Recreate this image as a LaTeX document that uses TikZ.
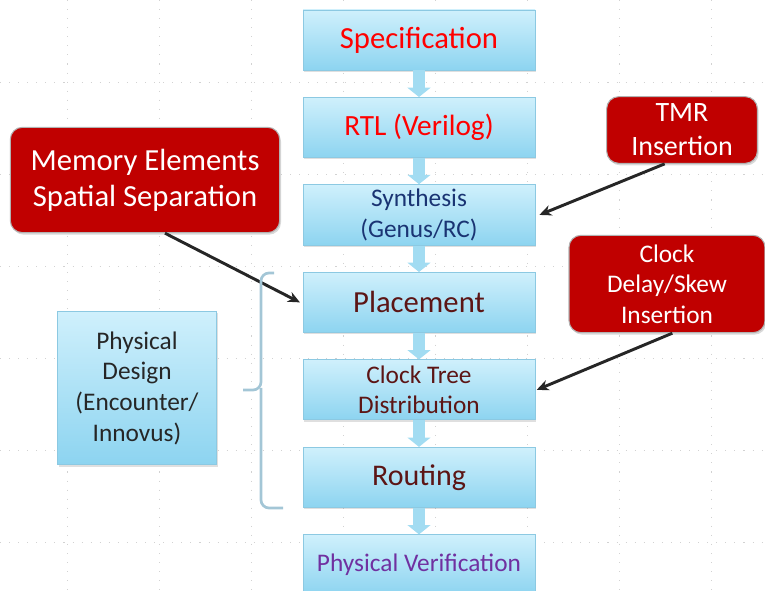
\documentclass[tikz,border=0pt]{standalone}
\usepackage{fontspec}
\setmainfont{Carlito}
\usetikzlibrary{positioning, arrows.meta, shadows}
\definecolor{boxtop}{HTML}{CFF0FC}
\definecolor{boxbot}{HTML}{8DD4F0}
\definecolor{boxline}{HTML}{8CC9E2}
\definecolor{flowcol}{HTML}{A2DCF2}
\definecolor{alert}{HTML}{C00000}
\definecolor{navy}{HTML}{1A3473}
\definecolor{maroon}{HTML}{5C1515}
\definecolor{violet}{HTML}{7030A0}
\definecolor{ink}{HTML}{262626}
\definecolor{bracecol}{HTML}{A3C6D6}

\begin{document}
\begin{tikzpicture}[x=0.75pt, y=-0.75pt, node distance={65.6pt}, thick,
    main/.style = {draw=boxline, line width=0.6pt, top color=boxtop, bottom color=boxbot, minimum width=174pt, minimum height=45pt, align=center, drop shadow={shadow xshift=1pt, shadow yshift=-1.5pt, opacity=0.25}},
    note/.style = {draw=gray!60, line width=0.8pt, fill=alert, rounded corners=9pt, text=white, align=center, drop shadow={shadow xshift=1pt, shadow yshift=-1.5pt, opacity=0.3}},
    big/.style = {font=\fontsize{23}{27}\selectfont},
    mid/.style = {font=\fontsize{19}{23}\selectfont},
    flow/.style = {line width=9pt, draw=flowcol, -{Triangle[width=17pt, length=7pt]}},
    pointer/.style = {line width=2.2pt, draw=ink, -{Stealth[length=9pt, width=8pt]}},
    gridline/.style = {gray!35, line width=0.6pt, dash pattern=on 0.8pt off 6pt}]
    \useasboundingbox (0,0) rectangle (765,591);
    % background grid
    \foreach \x in {67,159,...,711} \draw[gridline] (\x,0) -- (\x,591);
    \foreach \y in {82,174,...,542} \draw[gridline] (0,\y) -- (765,\y);
    % design flow
    \node[main, big, text=red] (1) at (419,40) {Specification};
    \node[main, font=\fontsize{22}{26}\selectfont, text=red] (2) [below of = 1] {RTL (Verilog)};
    \node[main, mid, text=navy] (3) [below of = 2] {Synthesis\\(Genus/RC)};
    \node[main, big, text=maroon] (4) [below of = 3] {Placement};
    \node[main, mid, text=maroon] (5) [below of = 4] {Clock Tree\\Distribution};
    \node[main, font=\fontsize{22.5}{26}\selectfont, text=maroon] (6) [below of = 5] {Routing};
    \node[main, mid, text=violet] (7) [below of = 6] {Physical Verification};
    \node[main, mid, text=ink, minimum width=119pt, minimum height=115pt] (8) at (137,388) {Physical\\Design\\(Encounter/\\Innovus)};
    % hardening notes
    \node[note, big, minimum width=202pt, minimum height=79pt] (9) at (145,180) {Memory Elements\\Spatial Separation};
    \node[note, font=\fontsize{21}{25.5}\selectfont, minimum width=113pt, minimum height=50pt] (10) at (682,130) {TMR\\Insertion};
    \node[note, mid, minimum width=147pt, minimum height=73pt] (11) at (667,284) {Clock\\Delay/Skew\\Insertion};
    \draw[flow] (1) -- (2);
    \draw[flow] (2) -- (3);
    \draw[flow] (3) -- (4);
    \draw[flow] (4) -- (5);
    \draw[flow] (5) -- (6);
    \draw[flow] (6) -- (7);
    \draw[pointer] ([xshift=15pt]9.south) -- ([xshift=-2pt]4.west);
    \draw[pointer] ([xshift=-13pt]10.south) -- ([xshift=3pt]3.east);
    \draw[pointer] ([xshift=4pt]11.south) -- ([xshift=1pt]5.east);
    % brace round the physical design steps
    \draw[bracecol, line width=2pt, rounded corners=6pt] (274,273) -- (261,273) -- (261,390) -- (243,390);
    \draw[bracecol, line width=2pt, rounded corners=6pt] (261,388) -- (261,508) -- (283,508);
\end{tikzpicture}
\end{document}
